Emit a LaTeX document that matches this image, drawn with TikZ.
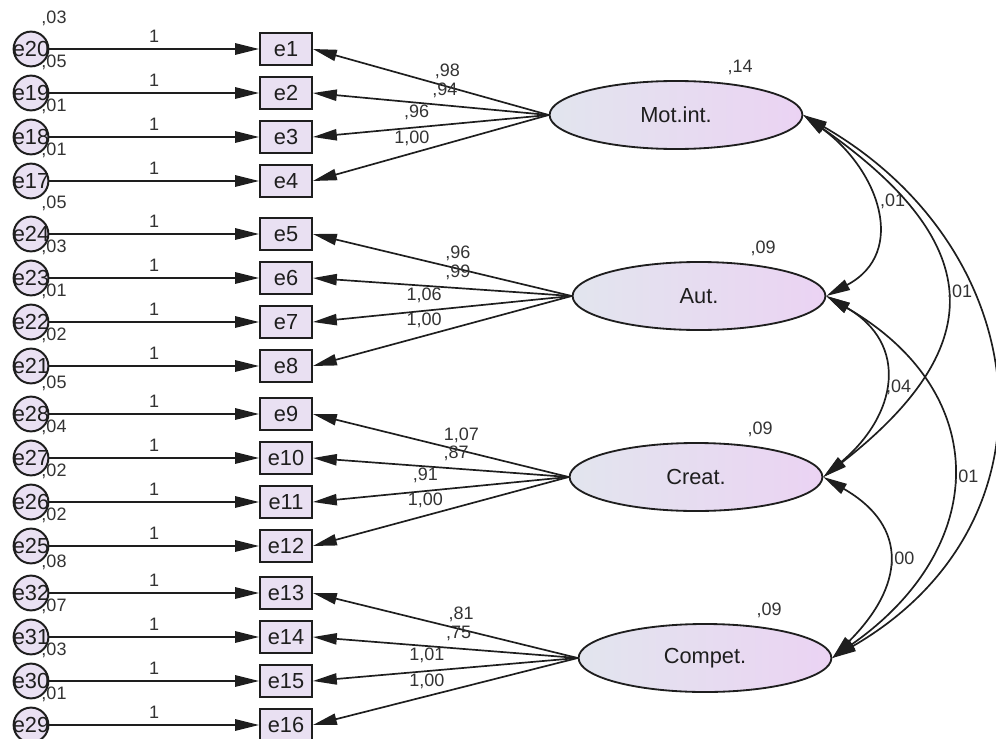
\documentclass[tikz,border=0pt]{standalone}
\usepackage{fontspec}
\setmainfont{Liberation Sans}
\usepackage{xcolor}
\definecolor{ink}{HTML}{1E1E1E}
\definecolor{slate}{HTML}{333333}
\definecolor{lilac}{HTML}{E9E0F2}
\definecolor{mist}{HTML}{E2E5EE}
\definecolor{orchid}{HTML}{EBD3F3}
\usepackage{tikz}
\usetikzlibrary{arrows.meta, positioning, shapes.geometric}

\tikzset{
  indbox/.style={rectangle, draw=ink, line width=1.3pt, fill=lilac, minimum width=1.3cm,
    minimum height=0.82cm, inner sep=0pt, text=ink, font=\fontsize{15.5}{18}\selectfont},
  errcirc/.style={circle, draw=ink, line width=1.4pt, fill=lilac, minimum size=0.87cm, inner sep=0pt},
  errtxt/.style={inner sep=0pt, text=ink, font=\fontsize{15.5}{18}\selectfont},
  latent/.style={ellipse, draw=ink, line width=1.3pt, left color=mist, right color=orchid,
    minimum width=6.32cm, minimum height=1.7cm, inner sep=0pt, text=ink,
    font=\fontsize{15.5}{18}\selectfont},
  lbl/.style={text=slate, inner sep=1pt, font=\fontsize{12.8}{14}\selectfont},
  fixed/.style={draw=ink, line width=1.4pt, -{Triangle[length=17pt, width=8pt]}},
  load/.style={draw=ink, line width=1.2pt, -{Triangle[length=17pt, width=8pt]}},
  cov/.style={draw=ink, line width=1.2pt, {Triangle[length=17pt, width=8pt]}-{Triangle[length=17pt, width=8pt]}},
}

\begin{document}
\begin{tikzpicture}[x=0.25mm, y=0.25mm]
  \useasboundingbox (0,0) rectangle (996,-738);

  % --- latent factors ---
  \node[latent] (mot) at (676,-115) {Mot.int.};
  \node[latent] (aut) at (699,-296) {Aut.};
  \node[latent] (creat) at (696,-477) {Creat.};
  \node[latent] (compet) at (705,-658) {Compet.};
  \foreach \f/\v in {mot/{,14}, aut/{,09}, creat/{,09}, compet/{,09}}
    \node[lbl] (var\f) at ([shift={(64,13)}]\f.north) {\v};

  % --- indicators and their error terms ---
  \foreach \i/\j/\y/\v in {1/20/49/{,03}, 2/19/93/{,05}, 3/18/137/{,01}, 4/17/181/{,01},
                           5/24/234/{,05}, 6/23/278/{,03}, 7/22/322/{,01}, 8/21/366/{,02},
                           9/28/414/{,05}, 10/27/458/{,04}, 11/26/502/{,02}, 12/25/546/{,02},
                           13/32/593/{,08}, 14/31/637/{,07}, 15/30/681/{,03}, 16/29/725/{,01}} {
    \node[indbox] (ind\i) at (286,-\y) {e\i};
    \node[errcirc, label={[errtxt]center:e\j}] (err\j) at (31,-\y) {};
    \node[lbl] (errvar\j) at ([shift={(23,12)}]err\j.north) {\v};
    \draw[fixed] (err\j) -- node[lbl, above=3pt] {1} (ind\i);
  }

  % --- factor loadings ---
  \foreach \i/\p/\w in {1/0.43/{,98}, 2/0.44/{,94}, 3/0.56/{,96}, 4/0.58/{1,00}}
    \draw[load] (mot.west) -- node[lbl, pos=\p, above=4pt] {\w} (ind\i.east);
  \foreach \i/\p/\w in {5/0.44/{,96}, 6/0.44/{,99}, 7/0.57/{1,06}, 8/0.57/{1,00}}
    \draw[load] (aut.west) -- node[lbl, pos=\p, above=4pt] {\w} (ind\i.east);
  \foreach \i/\p/\w in {9/0.42/{1,07}, 10/0.44/{,87}, 11/0.56/{,91}, 12/0.56/{1,00}}
    \draw[load] (creat.west) -- node[lbl, pos=\p, above=4pt] {\w} (ind\i.east);
  \foreach \i/\p/\w in {13/0.44/{,81}, 14/0.45/{,75}, 15/0.57/{1,01}, 16/0.57/{1,00}}
    \draw[load] (compet.west) -- node[lbl, pos=\p, above=4pt] {\w} (ind\i.east);

  % --- covariances ---
  \draw[cov] (mot.east) to[out=-36, in=28, looseness=1.3]
    node[lbl, pos=0.5, anchor=west, xshift=3pt, yshift=6pt] {,01} (aut.east);
  \draw[cov] (mot.east) to[out=-35, in=38, looseness=1.54]
    node[lbl, pos=0.5, anchor=west] {,01} (creat.east);
  \draw[cov] (mot.east) to[out=-30, in=30, looseness=1.27] (compet.east);
  \draw[cov] (aut.east) to[out=-30, in=40, looseness=1.36]
    node[lbl, pos=0.5, anchor=west, yshift=-4pt] {,04} (creat.east);
  \draw[cov] (aut.east) to[out=-30, in=35, looseness=1.36]
    node[lbl, pos=0.5, anchor=west, yshift=-4pt] {,01} (compet.east);
  \draw[cov] (creat.east) to[out=-30, in=45, looseness=1.42]
    node[lbl, pos=0.5, anchor=west] {,00} (compet.east);
\end{tikzpicture}
\end{document}
